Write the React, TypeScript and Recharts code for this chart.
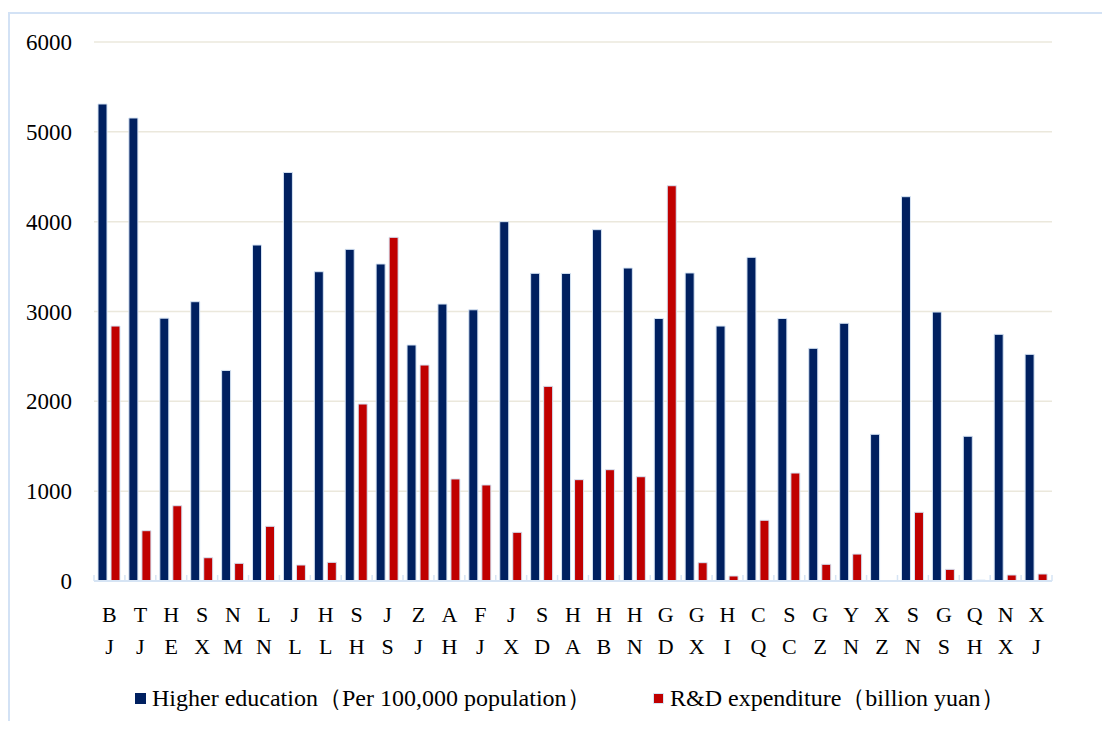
import React from 'react';
import { BarChart, Bar, XAxis, YAxis, CartesianGrid, Legend } from 'recharts';

const provinces = [
  'BJ', 'TJ', 'HE', 'SX', 'NM', 'LN', 'JL', 'HL', 'SH', 'JS', 'ZJ', 'AH', 'FJ', 'JX', 'SD', 'HA',
  'HB', 'HN', 'GD', 'GX', 'HI', 'CQ', 'SC', 'GZ', 'YN', 'XZ', 'SN', 'GS', 'QH', 'NX', 'XJ',
];

const higherEdu = [
  5310, 5154, 2926, 3109, 2344, 3740, 4548, 3443, 3692, 3529, 2627, 3083, 3019, 4000, 3425, 3424,
  3911, 3484, 2922, 3429, 2838, 3603, 2922, 2590, 2869, 1633, 4278, 2994, 1611, 2746, 2523,
];

const rdSpend = [
  2838, 560, 838, 259, 197, 609, 178, 208, 1970, 3826, 2404, 1136, 1069, 542, 2167, 1128,
  1239, 1161, 4400, 204, 56, 676, 1202, 186, 300, 3, 765, 130, 10, 67, 78,
];

const yTicks = [0, 1000, 2000, 3000, 4000, 5000, 6000];

const eduName = 'Higher education（Per 100,000 population）';
const rdName = 'R&D expenditure（billion yuan）';

const data = provinces.map((p, i) => ({ name: p, edu: higherEdu[i], rd: rdSpend[i] }));

const FONT = "'Times New Roman', 'Liberation Serif', serif";
const NAVY = '#002060';
const RED = '#C00000';
const EDGE = '#d6e4f4';

const CHART_W = 1102;
const CHART_H = 713;
const PLOT_LEFT = 86;
const PLOT_RIGHT = 1044;
const STEP = (PLOT_RIGHT - PLOT_LEFT) / provinces.length;

const ProvinceTick = (props: any) => {
  const { x, y, payload, index } = props;
  const code: string = payload.value;
  const left = x - STEP / 2;
  return (
    <g>
      <line x1={left} x2={left} y1={y - 6} y2={y} stroke={EDGE} strokeWidth={1.5} />
      {index === provinces.length - 1 && (
        <line x1={x + STEP / 2} x2={x + STEP / 2} y1={y - 6} y2={y} stroke={EDGE} strokeWidth={1.5} />
      )}
      <text x={x} y={y + 41} textAnchor="middle" fontSize={22} fontFamily={FONT} fill="#000">
        {code[0]}
      </text>
      <text x={x} y={y + 73} textAnchor="middle" fontSize={22} fontFamily={FONT} fill="#000">
        {code[1]}
      </text>
    </g>
  );
};

const LegendContent = () => (
  <div style={{ position: 'relative', height: 50, fontFamily: FONT, fontSize: 24, color: '#000' }}>
    <div style={{ position: 'absolute', left: 127, top: 11, display: 'flex', alignItems: 'center', whiteSpace: 'nowrap' }}>
      <span style={{ width: 11, height: 11, background: NAVY, display: 'inline-block', marginRight: 6 }} />
      <span>{eduName}</span>
    </div>
    <div style={{ position: 'absolute', left: 645, top: 11, display: 'flex', alignItems: 'center', whiteSpace: 'nowrap' }}>
      <span style={{ width: 9, height: 9, background: RED, border: `1px solid ${EDGE}`, display: 'inline-block', marginRight: 6 }} />
      <span>{rdName}</span>
    </div>
  </div>
);

export default function App() {
  return (
    <div style={{ position: 'relative', width: CHART_W, height: CHART_H }}>
      <div
        style={{
          position: 'absolute',
          left: 0,
          top: 4,
          width: 1110,
          height: 720,
          borderLeft: '2px solid #d3e2f5',
          borderTop: '2px solid #d3e2f5',
        }}
      />
      <div style={{ position: 'absolute', left: 0, top: 0 }}>
        <BarChart
          width={CHART_W}
          height={CHART_H}
          data={data}
          margin={{ top: 34, right: CHART_W - PLOT_RIGHT, left: 0, bottom: 0 }}
          barSize={9}
          barGap={4}
        >
          <CartesianGrid vertical={false} stroke="#ebe8dc" strokeWidth={1.5} />
          <XAxis
            dataKey="name"
            height={90}
            interval={0}
            tickLine={false}
            tickSize={0}
            tickMargin={0}
            axisLine={{ stroke: EDGE, strokeWidth: 2 }}
            tick={<ProvinceTick />}
          />
          <YAxis
            width={PLOT_LEFT}
            domain={[0, 6000]}
            ticks={yTicks}
            interval={0}
            axisLine={false}
            tickLine={false}
            tickSize={0}
            tickMargin={22}
            tick={{ fontSize: 23, fontFamily: FONT, fill: '#000' }}
          />
          <Legend verticalAlign="bottom" height={50} content={<LegendContent />} />
          <Bar dataKey="edu" name={eduName} fill={NAVY} stroke={EDGE} strokeWidth={1} isAnimationActive={false} />
          <Bar dataKey="rd" name={rdName} fill={RED} stroke={EDGE} strokeWidth={1} isAnimationActive={false} />
        </BarChart>
      </div>
    </div>
  );
}
